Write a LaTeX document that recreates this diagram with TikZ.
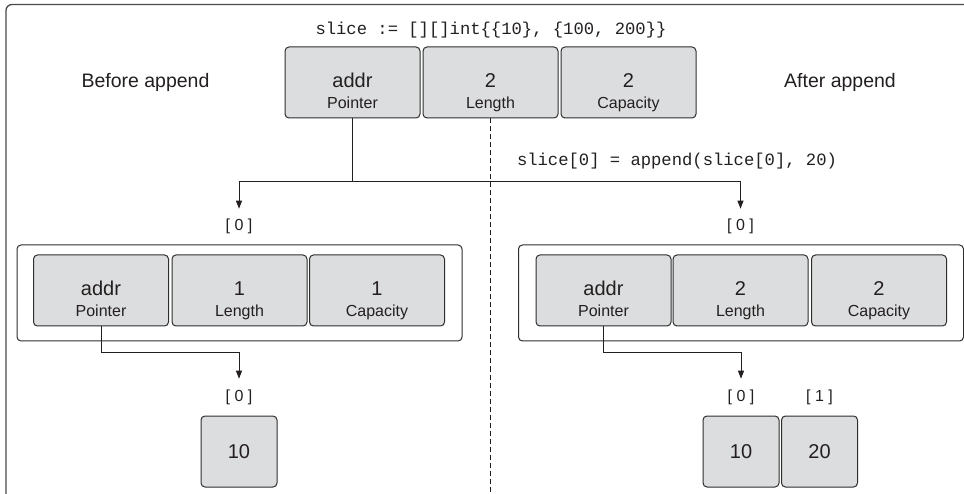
\documentclass[tikz,border=0pt]{standalone}
\usepackage{fontspec}
\setmainfont{Liberation Sans}
\setmonofont{Liberation Mono}
\usetikzlibrary{arrows.meta}
\definecolor{boxfill}{HTML}{DCDDDE}
\definecolor{boxline}{HTML}{2E2E2E}
\definecolor{ink}{HTML}{231F20}
\definecolor{frameline}{HTML}{4A4A4A}
\newcommand\mkfield[5]{%
  \node[field] (#1) at (#2,#3) {};
  \node[valtext] (#1v) at ([yshift=-41.5pt]#1.north) {#4};
  \node[subtext] (#1s) at ([yshift=-62.5pt]#1.north) {#5};
}
\begin{document}
\begin{tikzpicture}[x=1pt,y=-1pt,
  field/.style={draw=boxline, fill=boxfill, line width=1pt, rounded corners=4pt,
    minimum width=135pt, minimum height=71pt, inner sep=0pt},
  cell/.style={field, minimum width=76pt, text=ink, font=\fontsize{20}{24}\selectfont},
  holder/.style={draw=boxline, fill=white, line width=1pt, rounded corners=4pt,
    minimum width=445pt, minimum height=96pt, inner sep=0pt},
  valtext/.style={anchor=base, inner sep=0pt, text=ink, font=\fontsize{20}{24}\selectfont},
  subtext/.style={anchor=base, inner sep=0pt, text=ink, font=\fontsize{16}{19}\selectfont},
  idx/.style={anchor=base, inner sep=0pt, text=ink, font=\fontsize{16}{19}\selectfont},
  code/.style={anchor=base, inner sep=0pt, text=ink, font=\ttfamily\fontsize{17.2}{20}\selectfont},
  title/.style={anchor=base, inner sep=0pt, text=ink, font=\fontsize{19.5}{23}\selectfont},
  conn/.style={draw=ink, line width=0.9pt},
  arr/.style={conn, -{Stealth[length=8pt,width=6pt,inset=0pt]}, shorten >=10.5pt},
]
\useasboundingbox (0,0) rectangle (964,494);
% frame
\draw[draw=frameline, line width=1.3pt, rounded corners=6pt] (6,494) -- (6,4.5) -- (964,4.5);

% titles and code
\node[code] (code1) at (491,35) {slice := [][]int\{\{10\}, \{100, 200\}\}};
\node[title] (before) at (145.5,88) {Before append};
\node[title] (after) at (840,88) {After append};
\node[code] (code2) at (677,166) {slice[0] = append(slice[0], 20)};

% top slice header
\mkfield{tA}{352.5}{82.5}{addr}{Pointer}
\mkfield{tL}{490.5}{82.5}{2}{Length}
\mkfield{tC}{628.5}{82.5}{2}{Capacity}

% containers
\node[holder] (lH) at (239.5,293) {};
\node[holder] (rH) at (741,293) {};

% inner slice headers
\mkfield{lA}{101}{290.5}{addr}{Pointer}
\mkfield{lL}{239.5}{290.5}{1}{Length}
\mkfield{lC}{377}{290.5}{1}{Capacity}
\mkfield{rA}{603.5}{290.5}{addr}{Pointer}
\mkfield{rL}{740.5}{290.5}{2}{Length}
\mkfield{rC}{879}{290.5}{2}{Capacity}

% index labels
\node[idx] (iTL) at (239,231) {[ 0 ]};
\node[idx] (iTR) at (740.5,231) {[ 0 ]};
\node[idx] (iBL0) at (239,401) {[ 0 ]};
\node[idx] (iBR0) at (741,401) {[ 0 ]};
\node[idx] (iBR1) at (819.5,401) {[ 1 ]};

% backing arrays
\node[cell] (bL0) at (239,451.5) {10};
\node[cell] (bR0) at (741,451.5) {10};
\node[cell] (bR1) at (819.5,451.5) {20};

% connectors
\coordinate (tj) at (352.5,181);
\draw[conn] (tA.south) -- (tj);
\draw[arr] (tj) -| (iTL.north);
\draw[arr] (tj) -| (iTR.north);
\draw[arr] (lA.south) -- ++(0,26) -| (iBL0.north);
\draw[arr] (rA.south) -- ++(0,26) -| (iBR0.north);
\draw[conn, line width=0.8pt, dash pattern=on 5pt off 3pt] (tL.south) -- ++(0,373);
\end{tikzpicture}
\end{document}
